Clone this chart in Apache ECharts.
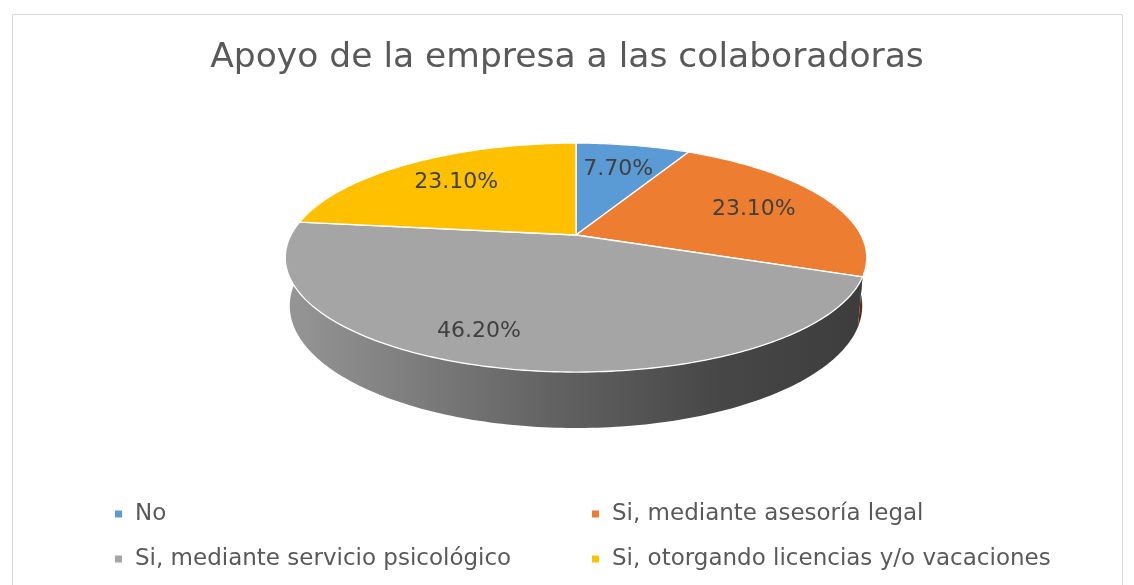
<!DOCTYPE html>
<html>
<head>
<meta charset="utf-8">
<script src="https://cdn.jsdelivr.net/npm/echarts@6/dist/echarts.min.js"></script>
<style>
  html, body { margin: 0; padding: 0; background: #fff; }
  #chart { width: 1134px; height: 585px; }
</style>
</head>
<body>
<div id="chart"></div>
<script>
const categories = [
  'No',
  'Si, mediante asesoría legal',
  'Si, mediante servicio psicológico',
  'Si, otorgando licencias y/o vacaciones'
];
const percents = [7.7, 23.1, 46.2, 23.1];
const colors = ['#5B9BD5', '#ED7D31', '#A5A5A5', '#FFC000'];

// nudge for the big slice label, Excel puts it off the mid angle
const labelShift = [[0, 0], [0, 0], [-42, 10], [0, 0]];

// 3d projection of the pie disc (tilted, with a bit of perspective)
const CX = 576;
const CY = 235;
const K = 285;
const SIN_T = 0.386;
const COS_T = 0.922;
const RD = 0.214;
const DEPTH = 0.182;
const FONT = '"DejaVu Sans", "Open Sans", sans-serif';

function project(theta, r, y) {
  const x = r * Math.sin(theta);
  const z = r * Math.cos(theta);
  const yc = y * COS_T + z * SIN_T;
  const zn = 1 + RD * (z * COS_T - y * SIN_T);
  return [CX + (K * x) / zn, CY - (K * yc) / zn];
}

function shade(hex, f) {
  const n = parseInt(hex.slice(1), 16);
  const c = [(n >> 16) & 255, (n >> 8) & 255, n & 255].map((v) => Math.round(v * f));
  return `rgb(${c.join(',')})`;
}

const total = percents.reduce((a, b) => a + b, 0);
const starts = [];
let acc = 0;
percents.forEach((v) => {
  starts.push(acc);
  acc += v;
});

function arc(a0, a1, y) {
  const pts = [];
  const n = Math.max(2, Math.ceil((a1 - a0) / (Math.PI / 180)));
  for (let i = 0; i <= n; i += 1) {
    pts.push(project(a0 + ((a1 - a0) * i) / n, 1, y));
  }
  return pts;
}

function makeRender(idx) {
  return function renderItem(params, api) {
    const v = api.value(0);
    const a0 = (starts[idx] / total) * Math.PI * 2;
    const a1 = ((starts[idx] + v) / total) * Math.PI * 2;
    const top = arc(a0, a1, 0);
    const wall = top.concat(arc(a0, a1, -DEPTH).reverse());
    const mid = (a0 + a1) / 2;
    const lp = project(mid, 0.7, 0);
    const base = colors[idx];
    return {
      type: 'group',
      children: [
        {
          type: 'polygon',
          z2: 1,
          shape: { points: wall },
          style: {
            fill: new echarts.graphic.LinearGradient(CX - K, 0, CX + K, 0, [
              { offset: 0, color: shade(base, 0.9) },
              { offset: 0.45, color: shade(base, 0.6) },
              { offset: 0.75, color: shade(base, 0.43) },
              { offset: 1, color: shade(base, 0.37) }
            ], true)
          }
        },
        {
          type: 'polygon',
          z2: 10,
          shape: { points: [[CX, CY]].concat(top) },
          style: { fill: base, stroke: '#ffffff', lineWidth: 1.3, lineJoin: 'round' }
        },
        {
          type: 'text',
          z2: 20,
          x: lp[0] + labelShift[idx][0],
          y: lp[1] + labelShift[idx][1],
          style: {
            text: v.toFixed(2) + '%',
            fill: '#404040',
            font: `22px ${FONT}`,
            align: 'center',
            verticalAlign: 'middle'
          }
        }
      ]
    };
  };
}

const chart = echarts.init(document.getElementById('chart'), null, { renderer: 'canvas' });

const series = categories.map((name, i) => ({
  type: 'custom',
  name,
  coordinateSystem: 'none',
  itemStyle: { color: colors[i] },
  silent: true,
  animation: false,
  renderItem: makeRender(i),
  data: [{ name, value: percents[i] }]
}));

chart.setOption({
  backgroundColor: '#ffffff',
  animation: false,
  title: {
    text: 'Apoyo de la empresa a las colaboradoras',
    left: 'center',
    top: 36,
    textStyle: {
      fontFamily: FONT,
      fontSize: 34.5,
      fontWeight: 'normal',
      color: '#595959'
    }
  },
  legend: {
    data: categories,
    left: 110,
    top: 492,
    width: 1000,
    orient: 'horizontal',
    icon: 'rect',
    itemWidth: 7,
    itemHeight: 7,
    itemGap: 11,
    selectedMode: false,
    textStyle: {
      fontFamily: FONT,
      fontSize: 23,
      color: '#595959',
      width: 446,
      lineHeight: 34,
      padding: [0, 0, 0, 8]
    }
  },
  graphic: [
    {
      type: 'rect',
      silent: true,
      shape: { x: 12.5, y: 14.5, width: 1110, height: 600 },
      style: { fill: 'none', stroke: '#d9d9d9', lineWidth: 1 }
    }
  ],
  series
});
</script>
</body>
</html>
